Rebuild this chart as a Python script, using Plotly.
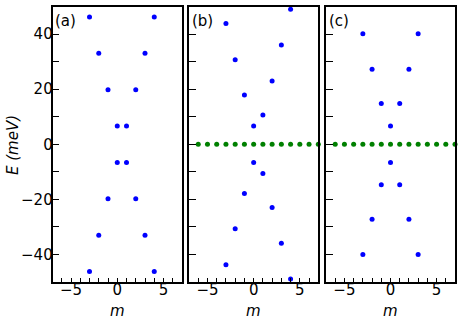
import plotly.graph_objects as go

# panel (a)
m_a = [-3, 4, -2, 3, -1, 2, 0, 1, 0, 1, -1, 2, -2, 3, -3, 4]
E_a = [46.2, 46.2, 33.0, 33.0, 19.8, 19.8, 6.6, 6.6,
       -6.6, -6.6, -19.8, -19.8, -33.0, -33.0, -46.2, -46.2]

# panel (b)
m_b = [-3, 4, -2, 3, -1, 2, 0, 1, 0, 1, -1, 2, -2, 3, -3, 4]
E_b = [43.8, 49.0, 30.7, 36.0, 17.9, 23.0, 6.6, 10.6,
       -6.6, -10.6, -17.9, -23.0, -30.7, -35.9, -43.7, -48.9]

# panel (c)
m_c = [-3, 3, -2, 2, -1, 1, 0, 0, -1, 1, -2, 2, -3, 3]
E_c = [40.1, 40.1, 27.2, 27.2, 14.8, 14.8, 6.6,
       -6.6, -14.7, -14.7, -27.2, -27.2, -40.0, -40.0]

# zero modes (panels b and c)
m_zero = [-6, -5, -4, -3, -2, -1, 0, 1, 2, 3, 4, 5, 6, 7]
E_zero = [0] * len(m_zero)

W, H = 464, 327
FONT = "DejaVu Sans"
BLUE = "#0000ff"
GREEN = "#008000"


def px_x(x):
    return x / W


def px_y(y):
    return 1 - y / H


x_dom = [(px_x(52.5), px_x(182)), (px_x(189), px_x(318.3)), (px_x(326), px_x(455))]
y_dom = (px_y(282), px_y(6.5))

fig = go.Figure()

panels = [(m_a, E_a, False), (m_b, E_b, True), (m_c, E_c, True)]
for i, (m, E, zero) in enumerate(panels):
    ax = "" if i == 0 else str(i + 1)
    if zero:
        fig.add_trace(go.Scatter(
            x=m_zero, y=E_zero, mode="markers", cliponaxis=False,
            marker=dict(color=GREEN, size=5), xaxis="x" + ax, yaxis="y" + ax,
            showlegend=False))
    fig.add_trace(go.Scatter(
        x=m, y=E, mode="markers", cliponaxis=False,
        marker=dict(color=BLUE, size=5), xaxis="x" + ax, yaxis="y" + ax,
        showlegend=False))

    xaxis = dict(
        domain=list(x_dom[i]), range=[-7, 7], anchor="y" + ax,
        showgrid=False, zeroline=False, automargin=False,
        showline=True, linecolor="black", linewidth=1.6, mirror=True,
        tickmode="array", tickvals=[-5, 0, 5], ticktext=["\u22125", "0", "5"],
        ticks="inside", ticklen=4, tickwidth=1.1, tickcolor="black",
        ticklabelstandoff=-7,
        minor=dict(tickmode="linear", tick0=0, dtick=1, ticks="inside",
                   ticklen=4, tickwidth=1.1, tickcolor="black"),
        tickfont=dict(family=FONT, size=15, color="black"),
    )
    yaxis = dict(
        domain=list(y_dom), range=[-50, 50], anchor="x" + ax,
        showgrid=False, zeroline=False, automargin=False,
        showline=True, linecolor="black", linewidth=1.6, mirror=True,
        tickmode="linear", tick0=0, dtick=20,
        ticks="inside", ticklen=7, tickwidth=1.1, tickcolor="black",
        ticklabelstandoff=-5,
        minor=dict(tickmode="linear", tick0=0, dtick=10, ticks="inside",
                   ticklen=7, tickwidth=1.1, tickcolor="black"),
        showticklabels=(i == 0),
        tickfont=dict(family=FONT, size=15, color="black"),
    )
    if i == 0:
        yaxis["tickmode"] = "array"
        yaxis["tickvals"] = [-40, -20, 0, 20, 40]
        yaxis["ticktext"] = ["\u221240", "\u221220", "0", "20", "40"]
    fig.layout["xaxis" + ax] = xaxis
    fig.layout["yaxis" + ax] = yaxis

    fig.add_annotation(
        text="(%s)" % "abc"[i], xref="x%s domain" % ax, yref="y%s domain" % ax,
        x=0.005, y=0.987, xanchor="left", yanchor="top", showarrow=False,
        font=dict(family=FONT, size=15, color="black"))
    fig.add_annotation(
        text="<i>m</i>", xref="paper", yref="paper",
        x=sum(x_dom[i]) / 2, y=px_y(310.5), xanchor="center", yanchor="middle",
        showarrow=False, font=dict(family=FONT, size=15, color="black"))

fig.add_annotation(
    text="<i>E (meV)</i>", xref="paper", yref="paper", x=px_x(13), y=px_y(145),
    xanchor="center", yanchor="middle", textangle=-90, showarrow=False,
    font=dict(family=FONT, size=15, color="black"))

fig.update_layout(
    width=W, height=H, margin=dict(l=0, r=0, t=0, b=0),
    paper_bgcolor="white", plot_bgcolor="white",
)

# drop the default 8px body margin so the figure fills the window
fig.write_html("out.html", config={"displayModeBar": False},
               post_script="document.body.style.margin='0';")
